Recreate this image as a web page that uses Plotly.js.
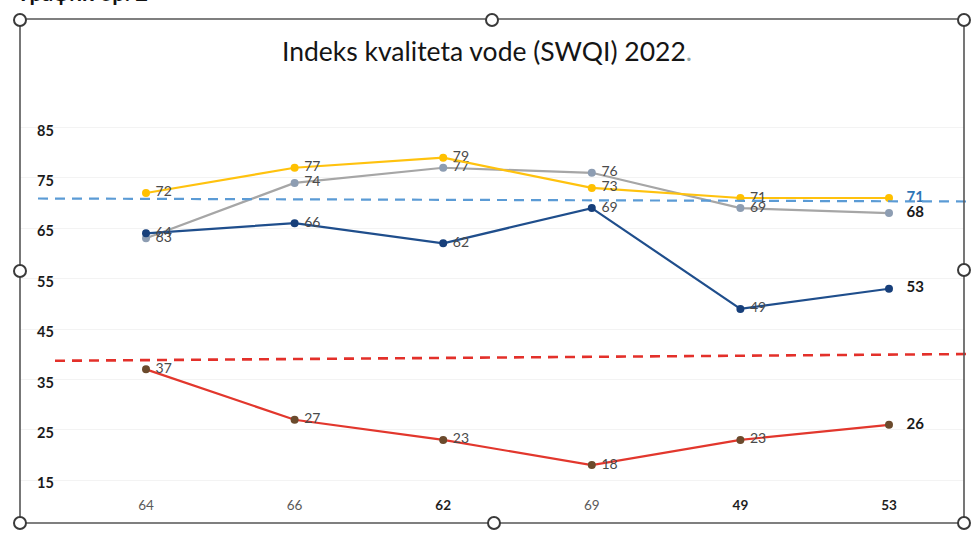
<!DOCTYPE html>
<html>
<head>
<meta charset="utf-8">
<script src="https://cdn.plot.ly/plotly-3.0.1.min.js"></script>
<style>html,body{margin:0;padding:0;background:#fff;}#chart{width:971px;height:533px;}</style>
</head>
<body>
<div id="chart"></div>
<script>
// ---- data ----
const categories = ["64", "66", "62", "69", "49", "53"];
const boldTick = [false, false, true, false, true, true];
const seriesYellow = [72, 77, 79, 73, 71, 71];
const seriesGray = [63, 74, 77, 76, 69, 68];
const seriesBlue = [64, 66, 62, 69, 49, 53];
const seriesRed = [37, 27, 23, 18, 23, 26];
const yTicks = [15, 25, 35, 45, 55, 65, 75, 85];
const blueLimit = [70.9, 70.3];   // dashed line, left -> right
const redLimit = [38.7, 40.05];   // dashed line, left -> right
const chartTitle = "Indeks kvaliteta vode (SWQI) 2022";
const headerText = "График бр. 2";

const idx = categories.map((c, i) => i);

function labels(vals, lastColor) {
  return vals.map((v, i) => i === vals.length - 1
    ? '&nbsp;&nbsp;&nbsp;<b><span style="color:' + lastColor + '">' + v + '</span></b>'
    : '&nbsp;' + v);
}
function lastFont(vals, base, last) { return vals.map((v, i) => i === vals.length - 1 ? last : base); }

const labelFont = 'Lato, "Open Sans", sans-serif';
function series(vals, lineColor, markerColor, lastColor) {
  return {
    x: idx, y: vals, type: 'scatter', mode: 'lines+markers+text',
    line: {color: lineColor, width: 2.2},
    marker: {color: markerColor, size: 8},
    text: labels(vals, lastColor),
    textposition: 'middle right',
    textfont: {family: labelFont, size: lastFont(vals, 14, 15), color: '#4a4a4a'},
    hoverinfo: 'x+y', showlegend: false, cliponaxis: false
  };
}

const traces = [
  series(seriesGray, '#a6a6a6', '#8d9db2', '#1a1a1a'),
  series(seriesYellow, '#ffc20e', '#ffc000', '#2e75b6'),
  series(seriesBlue, '#1f4e8c', '#173f7a', '#1a1a1a'),
  series(seriesRed, '#e2372d', '#6b4a2c', '#1a1a1a')
];

const L = 20, R = 964, T = 100, B = 495, W = 971, H = 533;
const px2x = p => (p - L) / (R - L);
const px2y = p => (B - p) / (B - T);

const shapes = [
  {type: 'line', xref: 'paper', yref: 'y', x0: px2x(38), x1: px2x(975), y0: blueLimit[0], y1: blueLimit[1],
   line: {color: '#5b9bd5', width: 2.2, dash: '10px,7px'}},
  {type: 'line', xref: 'paper', yref: 'y', x0: px2x(55), x1: px2x(975), y0: redLimit[0], y1: redLimit[1],
   line: {color: '#e3302a', width: 2.6, dash: '10px,7px'}},
  {type: 'rect', xref: 'paper', yref: 'paper', x0: px2x(20), x1: px2x(964), y0: px2y(523), y1: px2y(19),
   line: {color: '#555', width: 1.6}, fillcolor: 'rgba(0,0,0,0)'}
];
const handles = [[20, 20], [492, 20], [964, 20], [20, 271], [964, 270], [20, 523], [494, 523], [964, 523]];
handles.forEach(h => shapes.push({
  type: 'circle', xref: 'paper', yref: 'paper', xsizemode: 'pixel', ysizemode: 'pixel',
  xanchor: px2x(h[0]), yanchor: px2y(h[1]), x0: -6, x1: 6, y0: -6, y1: 6,
  line: {color: '#3a3a3a', width: 2}, fillcolor: '#ffffff'
}));

const layout = {
  width: W, height: H,
  margin: {l: L, r: W - R, t: T, b: H - B, pad: 0},
  paper_bgcolor: '#ffffff', plot_bgcolor: '#ffffff',
  title: {
    text: chartTitle + '<span style="color:#9aa">.</span>',
    font: {family: 'Lato, "Open Sans", sans-serif', size: 26.5, color: '#151515'},
    x: px2x(487), xref: 'paper', xanchor: 'center',
    y: 1 - 52 / H, yref: 'container', yanchor: 'middle'
  },
  xaxis: {
    range: [-(146 - L) / 148.6, (R - 146) / 148.6],
    tickvals: idx,
    ticktext: categories.map((c, i) => boldTick[i] ? '<b><span style="color:#1e1e1e">' + c + '</span></b>' : c),
    tickfont: {family: labelFont, size: 13.5, color: '#5a5a5a'},
    showgrid: false, zeroline: false, showline: false, ticks: '', ticklen: 0,
    fixedrange: true
  },
  yaxis: {
    range: [71 - (B - 198) / 5.04, 71 + (198 - T) / 5.04],
    tickvals: yTicks,
    ticktext: yTicks.map(v => '<b>' + v + '</b>'),
    tickfont: {family: labelFont, size: 14.5, color: '#1a1a1a'},
    ticklabelposition: 'inside', ticklabelstandoff: 14, ticklabelshift: 3,
    showgrid: true, gridcolor: '#f3f3f3', gridwidth: 1,
    zeroline: false, showline: false, ticks: '', fixedrange: true
  },
  shapes: shapes,
  annotations: [{
    text: '<b>' + headerText + '</b>', xref: 'paper', yref: 'paper',
    x: px2x(150), y: px2y(-8), xanchor: 'right', yanchor: 'middle', showarrow: false,
    font: {family: labelFont, size: 22, color: '#111'}
  }]
};

Plotly.newPlot('chart', traces, layout, {displayModeBar: false, staticPlot: true});
</script>
</body>
</html>
